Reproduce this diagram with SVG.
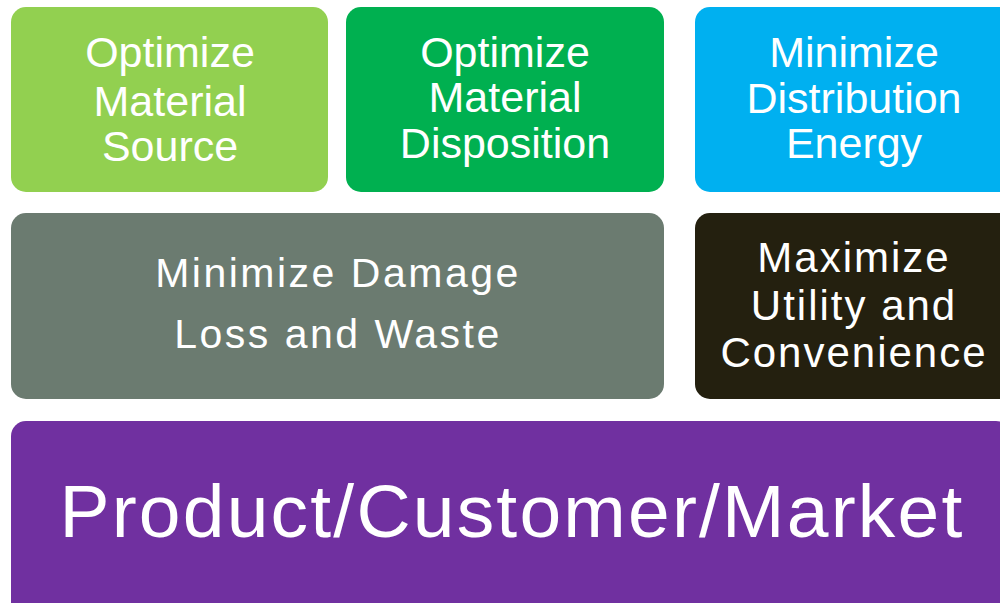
<svg xmlns="http://www.w3.org/2000/svg" width="1000" height="603" viewBox="0 0 1000 603">
  <style>
    .box { stroke: none; }
    .lbl { font-family: "Liberation Sans", Arial, sans-serif; fill: #ffffff; text-anchor: middle; }
    .top { font-size: 43px; }
    .mid { font-size: 41px; letter-spacing: 2.5px; }
    .util { font-size: 42px; letter-spacing: 2px; }
    .base { font-size: 75px; letter-spacing: 2.2px; }
  </style>
  <rect width="1000" height="603" fill="#ffffff"/>

  <g id="optimize-source">
    <rect class="box" x="11" y="7" width="317" height="185" rx="15" fill="#92D050"/>
    <text class="lbl top" x="170" y="67">Optimize</text>
    <text class="lbl top" x="170" y="116">Material</text>
    <text class="lbl top" x="170" y="161">Source</text>
  </g>

  <g id="optimize-disposition">
    <rect class="box" x="346" y="7" width="318" height="185" rx="15" fill="#00B050"/>
    <text class="lbl top" x="505" y="67">Optimize</text>
    <text class="lbl top" x="505" y="112">Material</text>
    <text class="lbl top" x="505" y="158">Disposition</text>
  </g>

  <g id="distribution-energy">
    <rect class="box" x="695" y="7" width="330" height="185" rx="15" fill="#00B0F0"/>
    <text class="lbl top" x="854" y="67">Minimize</text>
    <text class="lbl top" x="854" y="113">Distribution</text>
    <text class="lbl top" x="854" y="158">Energy</text>
  </g>

  <g id="damage-loss-waste">
    <rect class="box" x="11" y="213" width="653" height="186" rx="15" fill="#6B7B70"/>
    <text class="lbl mid" x="338" y="287">Minimize Damage</text>
    <text class="lbl mid" x="338" y="348">Loss and Waste</text>
  </g>

  <g id="utility-convenience">
    <rect class="box" x="695" y="213" width="330" height="186" rx="15" fill="#24200F"/>
    <text class="lbl util" x="854" y="272">Maximize</text>
    <text class="lbl util" x="854" y="320">Utility and</text>
    <text class="lbl util" x="854" y="367">Convenience</text>
  </g>

  <g id="product-customer-market">
    <rect class="box" x="11" y="421" width="1000" height="200" rx="15" fill="#7030A0"/>
    <text class="lbl base" x="512" y="537">Product/Customer/Market</text>
  </g>

  <g id="connectors"/>
</svg>
